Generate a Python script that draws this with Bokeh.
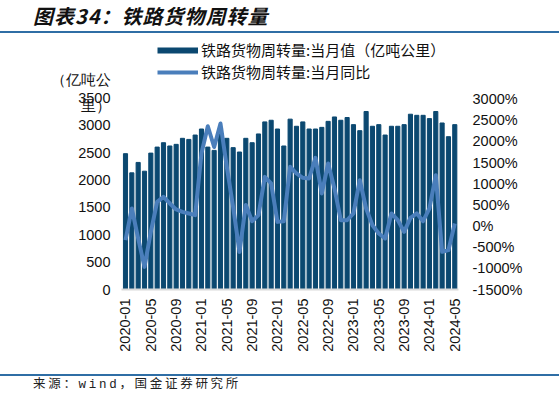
import math
from bokeh.plotting import figure
from bokeh.models import (Range1d, LinearAxis, FixedTicker, PrintfTickFormatter, Legend,
                          LegendItem, ColumnDataSource, Div)
from bokeh.layouts import column
from bokeh.embed import file_html
from bokeh.resources import INLINE

# ---- data ----
months = [f"{y}-{m:02d}" for y in range(2020, 2025) for m in range(1, 13)][:53]
volume = [2480, 2130, 2320, 2160, 2490, 2600, 2680, 2620, 2650, 2760,
          2740, 2820, 2930, 2600, 2540, 2950, 2760, 2590, 2510, 2760,
          2680, 2840, 3060, 3090, 2930, 2620, 3110, 2980, 3060, 2930,
          2930, 2960, 3070, 3150, 3090, 3140, 3010, 2900, 3250, 2980,
          3010, 2820, 2980, 2980, 3010, 3200, 3180, 3180, 3120, 3250,
          3040, 2790, 3010]
yoy = [-334, 416, -293, -965, -137, 572, 690, 534, 392, 336,
       298, 258, 1720, 2360, 1870, 2426, 1400, 450, -610, 500,
       116, 258, 1163, 1007, 99, 116, 1400, 1244, 1140, 1125,
       1613, 771, 1480, 889, 140, 140, 298, 1085, 416, 21,
       -175, -293, 298, 140, -137, 194, 298, 116, 416, 1204,
       -610, -570, 61]
left_ticks = [0, 500, 1000, 1500, 2000, 2500, 3000, 3500]
right_ticks = [-1500, -1000, -500, 0, 500, 1000, 1500, 2000, 2500, 3000]
x_tick_idx = list(range(0, 53, 4))

title_text = "图表34：铁路货物周转量"
source_text = "来源：wind，国金证券研究所"
bar_label = "铁路货物周转量:当月值（亿吨公里）"
line_label = "铁路货物周转量:当月同比"
unit_lines = ["（亿吨公", "里）"]
unit_line_pos = [3816, 3359]   # where the wrapped unit caption sits on the left scale

NAVY = "#0b4870"
LBLUE = "#4a7ebb"
RULE = "#2f6ea5"
FONT = "Liberation Sans"
CJK = "Noto Sans CJK SC"
TICK_SIZE = "14.5px"
W = 559

# ---- header ----
header = Div(width=W, height=36, margin=0,
             text=(f'<div style="width:{W}px;font-family:\'{CJK}\';font-size:20px;font-weight:bold;'
                   f'font-style:italic;letter-spacing:1px;line-height:20px;padding-top:6px;padding-left:33px;'
                   f'height:33px;box-sizing:border-box;border-bottom:2px solid {RULE};color:#111;">'
                   f'{title_text}</div>'))

# ---- main chart ----
src = ColumnDataSource(dict(idx=list(range(len(months))), vol=volume, yoy=yoy))
p = figure(width=W, height=334, output_backend="svg", toolbar_location=None,
           x_range=Range1d(-1.105, 53.22), y_range=Range1d(0, 4546), margin=0,
           min_border_left=118, min_border_right=97, min_border_top=4, min_border_bottom=81)
p.extra_y_ranges = {"yoy": Range1d(-1500, 4388), "key": Range1d(-20000, -10000)}
p.grid.visible = False
p.outline_line_color = None

p.vbar(x="idx", top="vol", width=0.65, source=src, color=NAVY)
line_r = p.line(x="idx", y="yoy", y_range_name="yoy", source=src, line_width=4,
                color=LBLUE, line_join="round")
# legend key for the bars (drawn on an off-screen range, only its legend swatch shows)
bar_key = p.line(x="idx", y="vol", y_range_name="key", source=src, line_width=6,
                 color=NAVY, line_cap="butt")

ra = LinearAxis(y_range_name="yoy")
p.add_layout(ra, "right")

for ax in [p.yaxis[0], ra]:
    ax.axis_line_color = None
    ax.major_tick_line_color = None
    ax.minor_tick_line_color = None
    ax.major_tick_out = 0
    ax.minor_tick_out = 0
    ax.major_label_text_font = FONT
    ax.major_label_text_font_size = TICK_SIZE
    ax.major_label_text_color = "#111111"
la = p.yaxis[0]
la.ticker = FixedTicker(ticks=left_ticks + unit_line_pos)
la.major_label_overrides = {v: t for v, t in zip(unit_line_pos, unit_lines)}
la.major_label_standoff = 8
ra.ticker = FixedTicker(ticks=right_ticks)
ra.formatter = PrintfTickFormatter(format="%d%%")
ra.major_label_standoff = 10

xa = p.xaxis[0]
xa.ticker = FixedTicker(ticks=x_tick_idx)
xa.major_label_overrides = {i: months[i] for i in x_tick_idx}
xa.major_label_orientation = math.pi / 2
xa.major_tick_line_color = None
xa.minor_tick_line_color = None
xa.major_tick_out = 0
xa.minor_tick_out = 0
xa.axis_line_color = "#d9d9d9"
xa.axis_line_width = 2
xa.bounds = (-0.7, 52.6)
xa.major_label_standoff = 9
xa.major_label_text_font = FONT
xa.major_label_text_font_size = TICK_SIZE
xa.major_label_text_color = "#111111"

legend = Legend(items=[LegendItem(label=bar_label, renderers=[bar_key]),
                       LegendItem(label=line_label, renderers=[line_r])],
                location=(39, 207), orientation="vertical",
                glyph_width=41, glyph_height=20, label_height=20, spacing=1,
                padding=0, margin=0, label_standoff=3,
                border_line_alpha=0, background_fill_alpha=0,
                label_text_font=CJK, label_text_font_size="15px", label_text_color="#111111")
p.add_layout(legend)

# ---- footer ----
footer = Div(width=W, height=36, margin=0,
             text=(f'<div style="width:{W}px;border-top:2px solid {RULE};margin-top:4px;padding-left:33px;'
                   f'padding-top:2px;font-family:\'Liberation Mono\',\'{CJK}\';font-size:12.5px;'
                   f'letter-spacing:2.7px;line-height:14px;'
                   f'color:#222;box-sizing:border-box;">{source_text}</div>'))

layout = column(header, p, footer, spacing=0)
open("out.html", "w").write(file_html(layout, INLINE))
